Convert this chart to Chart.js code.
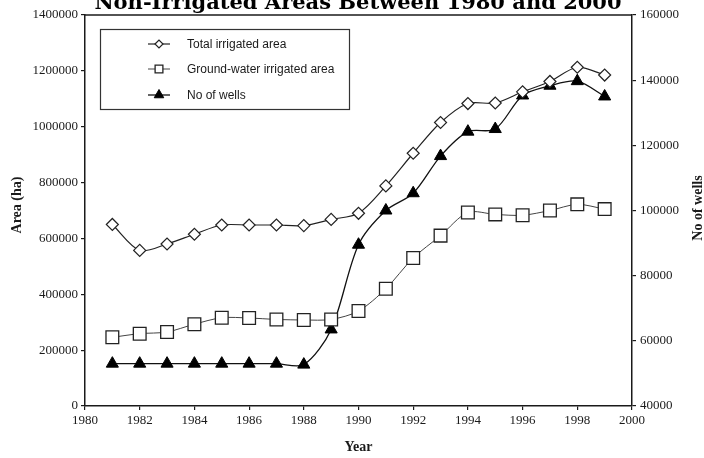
<!DOCTYPE html>
<html>
<head>
<meta charset="utf-8">
<script src="https://cdn.jsdelivr.net/npm/chart.js@4/dist/chart.umd.min.js"></script>
<style>
  html, body { margin: 0; padding: 0; background: #fff; }
  #wrap { position: relative; width: 704px; height: 458px; overflow: hidden; }
</style>
</head>
<body>
<div id="wrap"><canvas id="c" width="704" height="458"></canvas></div>
<script>
// Irrigation statistics, 1981-1999
const years = [1981, 1982, 1983, 1984, 1985, 1986, 1987, 1988, 1989, 1990,
               1991, 1992, 1993, 1994, 1995, 1996, 1997, 1998, 1999];
const totalIrrigated = [650000, 557000, 580000, 615000, 648000, 648000, 648000, 646000, 668000, 690000,
                        788000, 905000, 1015000, 1083000, 1085000, 1125000, 1162000, 1213000, 1185000];
const groundWaterIrrigated = [246000, 259000, 265000, 293000, 316000, 315000, 310000, 308000, 310000, 340000,
                              420000, 530000, 610000, 693000, 686000, 683000, 700000, 722000, 705000];
const wells = [53000, 53000, 53000, 53000, 53000, 53000, 53000, 52700, 63500, 89500,
               100000, 105300, 116700, 124200, 125000, 135300, 138300, 139700, 135000];

const seriesNames = ['Total irrigated area', 'Ground-water irrigated area', 'No of wells'];
const chartTitle = 'Non-Irrigated Areas Between 1980 and 2000';
const xTitle = 'Year';
const yTitle = 'Area (ha)';
const y2Title = 'No of wells';

const pts = vals => vals.map((v, i) => ({ x: years[i], y: v }));

const SERIF = '"Liberation Serif", "Times New Roman", serif';
const SANS = '"Liberation Sans", Arial, sans-serif';
const INK = '#1a1a1a';

// Titles, frame and the boxed legend drawn on the canvas
const decorations = {
  id: 'decorations',
  afterDraw(chart) {
    const { ctx, chartArea: a } = chart;
    ctx.save();
    // top edge of the plot frame
    ctx.strokeStyle = INK;
    ctx.lineWidth = 1.5;
    ctx.beginPath();
    ctx.moveTo(a.left, a.top);
    ctx.lineTo(a.right, a.top);
    ctx.stroke();

    // chart title
    ctx.fillStyle = '#000';
    ctx.font = 'bold 21px "DejaVu Serif", serif';
    ctx.textAlign = 'center';
    ctx.textBaseline = 'alphabetic';
    ctx.fillText(chartTitle, 358, 9);

    // axis titles
    ctx.fillStyle = INK;
    ctx.font = 'bold 14px ' + SERIF;
    ctx.textBaseline = 'middle';
    ctx.fillText(xTitle, (a.left + a.right) / 2, 447);
    ctx.save();
    ctx.translate(17, 205);
    ctx.rotate(-Math.PI / 2);
    ctx.fillText(yTitle, 0, 0);
    ctx.restore();
    ctx.save();
    ctx.translate(698, 208);
    ctx.rotate(-Math.PI / 2);
    ctx.fillText(y2Title, 0, 0);
    ctx.restore();

    // legend box
    ctx.fillStyle = '#fff';
    ctx.fillRect(100, 29, 249, 80);
    ctx.strokeStyle = '#333';
    ctx.lineWidth = 1.2;
    ctx.strokeRect(100.5, 29.5, 249, 80);
    const rows = [44, 69, 95];
    const legendRadius = [4, 5.5, 5.5];
    chart.data.datasets.forEach((ds, i) => {
      const y = rows[i];
      ctx.strokeStyle = ds.borderColor;
      ctx.lineWidth = ds.borderWidth;
      ctx.beginPath();
      ctx.moveTo(148, y);
      ctx.lineTo(170, y);
      ctx.stroke();
      ctx.fillStyle = ds.pointBackgroundColor;
      ctx.strokeStyle = ds.pointBorderColor;
      ctx.lineWidth = ds.pointBorderWidth;
      Chart.helpers.drawPoint(ctx, { pointStyle: ds.pointStyle, radius: legendRadius[i], borderWidth: ds.pointBorderWidth, rotation: 0 }, 159, y);
      ctx.fillStyle = INK;
      ctx.font = '12px ' + SANS;
      ctx.textAlign = 'left';
      ctx.textBaseline = 'middle';
      ctx.fillText(ds.label, 187, y + 0.5);
    });
    ctx.restore();
  }
};

const tickFont = { family: SERIF, size: 13 };

new Chart(document.getElementById('c'), {
  type: 'line',
  data: {
    datasets: [
      {
        label: seriesNames[0],
        data: pts(totalIrrigated),
        yAxisID: 'y',
        borderColor: '#222',
        borderWidth: 1.2,
        pointStyle: 'rectRot',
        pointRadius: 6,
        pointBackgroundColor: '#fff',
        pointBorderColor: '#222',
        pointBorderWidth: 1.2,
        tension: 0.3
      },
      {
        label: seriesNames[1],
        data: pts(groundWaterIrrigated),
        yAxisID: 'y',
        borderColor: '#444',
        borderWidth: 1,
        pointStyle: 'rect',
        pointRadius: 9,
        pointBackgroundColor: '#fff',
        pointBorderColor: '#222',
        pointBorderWidth: 1.3,
        tension: 0.3
      },
      {
        label: seriesNames[2],
        data: pts(wells),
        yAxisID: 'y2',
        borderColor: '#111',
        borderWidth: 1.3,
        pointStyle: 'triangle',
        pointRadius: 7,
        pointBackgroundColor: '#000',
        pointBorderColor: '#000',
        pointBorderWidth: 1,
        tension: 0.3
      }
    ]
  },
  options: {
    responsive: false,
    animation: false,
    devicePixelRatio: 1,
    layout: { padding: { top: 15, left: 0, right: 0, bottom: 0 } },
    plugins: { legend: { display: false }, title: { display: false }, tooltip: { enabled: false } },
    scales: {
      x: {
        type: 'linear',
        min: 1980,
        max: 2000,
        ticks: { stepSize: 2, color: INK, font: tickFont, padding: 3, callback: v => String(v), maxRotation: 0 },
        grid: { drawOnChartArea: false, drawTicks: true, tickLength: 4, color: INK, lineWidth: 1.2 },
        border: { display: true, color: INK, width: 1.5 },
        afterFit: s => { s.height = 52; }
      },
      y: {
        position: 'left',
        min: 0,
        max: 1400000,
        ticks: { stepSize: 200000, color: INK, font: tickFont, padding: 3, callback: v => String(v) },
        grid: { drawOnChartArea: false, drawTicks: true, tickLength: 4, color: INK, lineWidth: 1.2 },
        border: { display: true, color: INK, width: 1.5 },
        afterFit: s => { s.width = 85; }
      },
      y2: {
        position: 'right',
        min: 40000,
        max: 160000,
        ticks: { stepSize: 20000, color: INK, font: tickFont, padding: 4, callback: v => String(v) },
        grid: { drawOnChartArea: false, drawTicks: true, tickLength: 4, color: INK, lineWidth: 1.2 },
        border: { display: true, color: INK, width: 1.5 },
        afterFit: s => { s.width = 72; }
      }
    }
  },
  plugins: [decorations]
});
</script>
</body>
</html>
